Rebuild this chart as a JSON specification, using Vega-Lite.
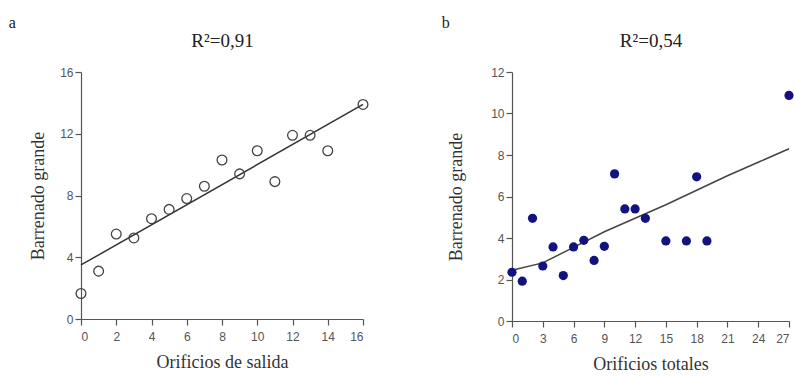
{
  "$schema": "https://vega.github.io/schema/vega-lite/v6.json",
  "background": "white",
  "padding": {"left": 8, "top": 15, "right": 0, "bottom": 0},
  "spacing": 149,
  "bounds": "flush",
  "config": {
    "view": {"stroke": null},
    "axis": {
      "grid": false,
      "domainColor": "#555",
      "domainWidth": 1.2,
      "tickColor": "#555",
      "tickSize": 6,
      "tickWidth": 1.2,
      "labelFont": "Liberation Sans",
      "labelFontSize": 12,
      "labelColor": "#555",
      "labelPadding": 2,
      "titleFont": "Liberation Serif",
      "titleFontSize": 18,
      "titleFontWeight": "normal",
      "titleColor": "#333"
    },
    "axisBottom": {"labelPadding": 6, "titlePadding": 11},
    "title": {"font": "Liberation Serif", "fontWeight": "normal", "color": "#222"}
  },
  "datasets": {
    "a_pts": [
      {"salida": 0, "barrenado": 1.65},
      {"salida": 1, "barrenado": 3.1},
      {"salida": 2, "barrenado": 5.5},
      {"salida": 3, "barrenado": 5.25},
      {"salida": 4, "barrenado": 6.5},
      {"salida": 5, "barrenado": 7.1},
      {"salida": 6, "barrenado": 7.8},
      {"salida": 7, "barrenado": 8.6},
      {"salida": 8, "barrenado": 10.3},
      {"salida": 9, "barrenado": 9.4},
      {"salida": 10, "barrenado": 10.9},
      {"salida": 11, "barrenado": 8.9},
      {"salida": 12, "barrenado": 11.9},
      {"salida": 13, "barrenado": 11.9},
      {"salida": 14, "barrenado": 10.9},
      {"salida": 16, "barrenado": 13.9}
    ],
    "a_fit": [
      {"salida": 0, "barrenado": 3.5},
      {"salida": 16, "barrenado": 13.9}
    ],
    "b_pts": [
      {"totales": 0, "barrenado": 2.35},
      {"totales": 1, "barrenado": 1.92},
      {"totales": 2, "barrenado": 4.95},
      {"totales": 3, "barrenado": 2.65},
      {"totales": 4, "barrenado": 3.57},
      {"totales": 5, "barrenado": 2.19},
      {"totales": 6, "barrenado": 3.57},
      {"totales": 7, "barrenado": 3.89},
      {"totales": 8, "barrenado": 2.92},
      {"totales": 9, "barrenado": 3.6},
      {"totales": 10, "barrenado": 7.09},
      {"totales": 11, "barrenado": 5.4},
      {"totales": 12, "barrenado": 5.4},
      {"totales": 13, "barrenado": 4.95},
      {"totales": 15, "barrenado": 3.86},
      {"totales": 17, "barrenado": 3.86},
      {"totales": 18, "barrenado": 6.95},
      {"totales": 19, "barrenado": 3.86},
      {"totales": 27, "barrenado": 10.87}
    ],
    "b_fit": [
      {"totales": 0, "barrenado": 2.45},
      {"totales": 3, "barrenado": 2.8},
      {"totales": 6, "barrenado": 3.55},
      {"totales": 9, "barrenado": 4.3},
      {"totales": 12, "barrenado": 4.95},
      {"totales": 15, "barrenado": 5.6},
      {"totales": 18, "barrenado": 6.3},
      {"totales": 21, "barrenado": 7.0},
      {"totales": 24, "barrenado": 7.65},
      {"totales": 27, "barrenado": 8.3}
    ]
  },
  "hconcat": [
    {
      "width": 282,
      "height": 247,
      "title": {"text": "a", "anchor": "start", "frame": "bounds", "fontSize": 16, "dx": -21, "offset": 0},
      "resolve": {"axis": {"x": "independent"}},
      "layer": [
        {
          "data": {"name": "a_fit"},
          "mark": {"type": "line", "color": "#333", "strokeWidth": 1.5},
          "encoding": {
            "x": {"field": "salida", "type": "quantitative", "scale": {"domain": [0, 16]},
              "axis": {"orient": "top", "domain": false, "ticks": false, "labels": false, "title": "R²=0,91", "titleFontSize": 19, "titleColor": "#222", "titlePadding": 22}},
            "y": {"field": "barrenado", "type": "quantitative", "scale": {"domain": [0, 16]}}
          }
        },
        {
          "data": {"name": "a_pts"},
          "mark": {"type": "point", "shape": "circle", "filled": false, "stroke": "#444", "strokeWidth": 1.3, "size": 95, "opacity": 1},
          "encoding": {
            "x": {"field": "salida", "type": "quantitative", "scale": {"domain": [0, 16]},
              "axis": {"values": [0, 2, 4, 6, 8, 10, 12, 14, 16], "title": "Orificios de salida"}},
            "y": {"field": "barrenado", "type": "quantitative", "scale": {"domain": [0, 16]},
              "axis": {"values": [0, 4, 8, 12, 16], "title": "Barrenado grande", "titlePadding": 12}}
          }
        }
      ]
    },
    {
      "width": 277,
      "height": 249,
      "title": {"text": "b", "anchor": "start", "frame": "bounds", "fontSize": 16, "dx": -6, "offset": 0},
      "resolve": {"axis": {"x": "independent"}},
      "layer": [
        {
          "data": {"name": "b_fit"},
          "mark": {"type": "line", "color": "#444", "strokeWidth": 1.5},
          "encoding": {
            "x": {"field": "totales", "type": "quantitative", "scale": {"domain": [0, 27]},
              "axis": {"orient": "top", "domain": false, "ticks": false, "labels": false, "title": "R²=0,54", "titleFontSize": 19, "titleColor": "#222", "titlePadding": 22}},
            "y": {"field": "barrenado", "type": "quantitative", "scale": {"domain": [0, 12]}}
          }
        },
        {
          "data": {"name": "b_pts"},
          "mark": {"type": "circle", "color": "#13137f", "size": 85, "opacity": 1},
          "encoding": {
            "x": {"field": "totales", "type": "quantitative", "scale": {"domain": [0, 27]},
              "axis": {"values": [0, 3, 6, 9, 12, 15, 18, 21, 24, 27], "title": "Orificios totales"}},
            "y": {"field": "barrenado", "type": "quantitative", "scale": {"domain": [0, 12]},
              "axis": {"values": [0, 2, 4, 6, 8, 10, 12], "title": "Barrenado grande", "titlePadding": 25}}
          }
        }
      ]
    }
  ]
}
